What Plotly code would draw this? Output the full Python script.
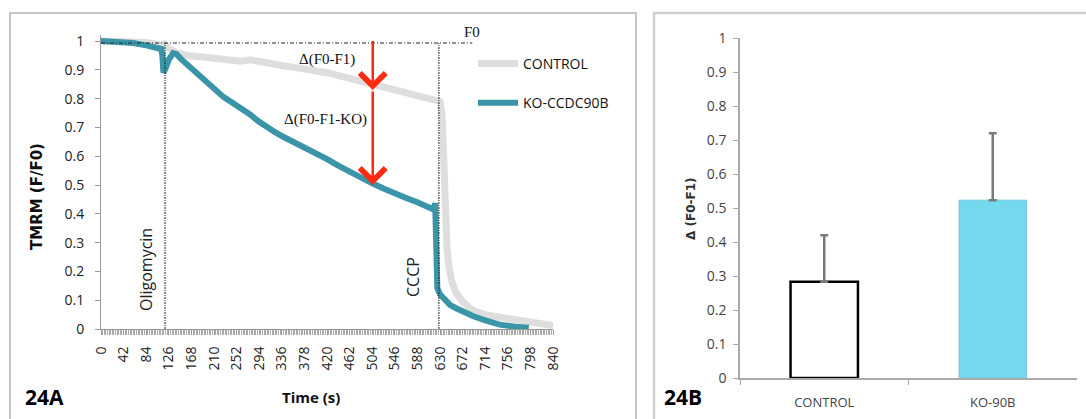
import plotly.graph_objects as go

W, H = 1086, 419

# ---------------- Panel 24A data ----------------
ctrl_t = [0, 21, 42, 63, 84, 100, 112, 118, 126, 140, 160, 184, 210, 240, 260, 277, 300,
          336, 370, 420, 462, 504, 546, 588, 615, 630, 634, 637, 640, 643, 647, 652, 660,
          672, 690, 714, 750, 790, 840]
ctrl_v = [1.0, 1.0, 0.998, 0.997, 0.995, 0.99, 0.985, 0.99, 0.975, 0.96, 0.95, 0.945, 0.94,
          0.935, 0.93, 0.935, 0.925, 0.915, 0.905, 0.89, 0.87, 0.85, 0.835, 0.815, 0.8, 0.79,
          0.74, 0.55, 0.38, 0.28, 0.21, 0.165, 0.125, 0.095, 0.065, 0.05, 0.038, 0.025, 0.012]

ko_t = [0, 21, 42, 60, 84, 100, 112, 114, 116, 120, 126, 134, 140, 150, 168, 184, 197, 210,
        228, 245, 262, 277, 292, 308, 322, 336, 352, 370, 395, 420, 440, 462, 484, 505, 526,
        546, 567, 588, 611, 618, 621, 623, 625, 630, 640, 649, 660, 672, 691, 714, 741, 770, 795]
ko_v = [1.0, 0.998, 0.995, 0.993, 0.985, 0.978, 0.972, 0.95, 0.89, 0.905, 0.935, 0.958,
        0.955, 0.935, 0.905, 0.872, 0.85, 0.83, 0.805, 0.785, 0.765, 0.745, 0.722, 0.70, 0.685,
        0.67, 0.655, 0.64, 0.615, 0.59, 0.568, 0.545, 0.525, 0.505, 0.487, 0.47, 0.455, 0.44,
        0.424, 0.415, 0.437, 0.30, 0.142, 0.12, 0.10, 0.083, 0.072, 0.06, 0.045, 0.03, 0.015,
        0.008, 0.004]

x_tick_vals = [0, 42, 84, 126, 168, 210, 252, 294, 336, 378, 420, 462, 504, 546, 588, 630,
               672, 714, 756, 798, 840]
x_tick_text = [str(v) for v in x_tick_vals]
y_tick_vals = [0, 0.1, 0.2, 0.3, 0.4, 0.5, 0.6, 0.7, 0.8, 0.9, 1]
y_tick_text = ["0", "0.1", "0.2", "0.3", "0.4", "0.5", "0.6", "0.7", "0.8", "0.9", "1"]

# event markers
OLIGO_T = 119
CCCP_T = 628
F0_LEVEL = 0.993
F0_END_T = 690
ARROW_T = 505
ARROW_TOP = 1.005
ARROW_MID = 0.83
ARROW_END = 0.50

# ---------------- Panel 24B data ----------------
groups = ["CONTROL", "KO-90B"]
delta_mean = [0.283, 0.523]
delta_err = [0.137, 0.197]

GREY = "#dedede"
TEAL = "#3a95a9"


def fx(px):
    return px / W


def fy(py):
    return 1 - py / H


fig = go.Figure()

fig.add_trace(go.Scatter(x=ctrl_t, y=ctrl_v, mode="lines", name="CONTROL",
                         line=dict(color=GREY, width=7), legendgroup="a",
                         xaxis="x", yaxis="y"))
fig.add_trace(go.Scatter(x=ko_t, y=ko_v, mode="lines", name="KO-CCDC90B",
                         line=dict(color=TEAL, width=6), legendgroup="b",
                         xaxis="x", yaxis="y"))

fig.add_trace(go.Bar(x=groups, y=delta_mean, xaxis="x2", yaxis="y2", showlegend=False,
                     marker=dict(color=["white", "#74d8ef"],
                                 line=dict(color=["black", "#74c6da"], width=[2.5, 1])),
                     error_y=dict(type="data", array=delta_err, arrayminus=[0, 0],
                                  symmetric=False, color="#7a7a7a", thickness=2.5, width=4)))

tickfont = dict(family="Open Sans", size=14, color="#222")

fig.update_layout(
    width=W, height=H, margin=dict(l=0, r=0, t=0, b=0, autoexpand=False),
    paper_bgcolor="white", plot_bgcolor="rgba(0,0,0,0)",
    bargap=0.6,
    showlegend=True,
    legend=dict(x=fx(473), y=fy(48), xanchor="left", yanchor="top",
                font=dict(family="Open Sans", size=14, color="#111"),
                itemwidth=40, tracegroupgap=18, traceorder="grouped",
                bgcolor="rgba(0,0,0,0)"),
    xaxis=dict(domain=[fx(101), fx(553)], range=[0, 840], anchor="y", automargin=False,
               tickmode="array", tickvals=x_tick_vals, ticktext=x_tick_text,
               tickangle=-90, tickfont=tickfont, ticks="outside", ticklen=5,
               tickcolor="#999", ticklabelstandoff=6,
               showline=True, linecolor="#999", linewidth=1, showgrid=False,
               zeroline=False,
               minor=dict(tickmode="linear", tick0=0, dtick=3, ticks="outside",
                          ticklen=5, tickcolor="#aaa", tickwidth=1, showgrid=False)),
    yaxis=dict(domain=[fy(329), fy(329 - 1.02 * 288)], range=[0, 1.02], anchor="x",
               automargin=False,
               tickmode="array", tickvals=y_tick_vals, ticktext=y_tick_text,
               tickfont=tickfont, ticks="outside", ticklen=5, tickcolor="#999",
               ticklabelstandoff=8,
               showline=True, linecolor="#999", linewidth=1, showgrid=False,
               zeroline=False),
    xaxis2=dict(domain=[fx(740), fx(1077)], range=[-0.5, 1.5], anchor="y2",
                automargin=False,
                type="category", tickfont=dict(family="Open Sans", size=13, color="#444"),
                ticks="outside", tickson="boundaries", ticklen=5, tickcolor="#aaa",
                ticklabelstandoff=12,
                showline=True, linecolor="#aaa", linewidth=1.5, showgrid=False),
    yaxis2=dict(domain=[fy(378), fy(38)], range=[0, 1], anchor="x2", automargin=False,
                tickmode="array", tickvals=y_tick_vals, ticktext=y_tick_text,
                tickfont=dict(family="Open Sans", size=14, color="#444"),
                ticks="outside", ticklen=5, tickcolor="#aaa", ticklabelstandoff=4,
                showline=True, linecolor="#aaa", linewidth=1.5, showgrid=False,
                zeroline=False),
)

shapes = [
    # panel borders
    dict(type="rect", xref="paper", yref="paper", x0=fx(10), x1=fx(636), y0=fy(440), y1=fy(13),
         line=dict(color="#b5b5b5", width=1.5), layer="below"),
    dict(type="rect", xref="paper", yref="paper", x0=fx(654), x1=fx(1100), y0=fy(440), y1=fy(13),
         line=dict(color="#cfcfcf", width=2.5), layer="below"),
    # F0 reference line
    dict(type="line", xref="x", yref="y", x0=0, x1=F0_END_T, y0=F0_LEVEL, y1=F0_LEVEL,
         line=dict(color="#222", width=1, dash="4px,2px,1px,2px")),
    # oligomycin / CCCP
    dict(type="line", xref="x", yref="y", x0=OLIGO_T, x1=OLIGO_T, y0=0, y1=F0_LEVEL,
         line=dict(color="#222", width=1, dash="2px,1px,1px,1px")),
    dict(type="line", xref="x", yref="y", x0=CCCP_T, x1=CCCP_T, y0=0, y1=F0_LEVEL,
         line=dict(color="#222", width=1, dash="2px,1px,1px,1px")),
]
fig.update_layout(shapes=shapes)

serif = dict(family="Liberation Serif", size=15, color="#111")
sans = dict(family="Open Sans", size=16, color="#222")
ann = [
    dict(text="Δ(F0-F1)", x=fx(327), y=fy(60), font=serif),
    dict(text="Δ(F0-F1-KO)", x=fx(325), y=fy(119), font=serif),
    dict(text="F0", x=fx(472), y=fy(32), font=serif),
    dict(text="Oligomycin", x=fx(146), y=fy(270), font=sans, textangle=-90),
    dict(text="CCCP", x=fx(413), y=fy(277), font=sans, textangle=-90),
    dict(text="<b>TMRM (F/F0)</b>", x=fx(37), y=fy(197),
         font=dict(family="DejaVu Sans", size=15, color="#111"), textangle=-90),
    dict(text="<b>Time (s)</b>", x=fx(311), y=fy(397),
         font=dict(family="Open Sans", size=15, color="#111")),
    dict(text="<b>24A</b>", x=fx(44), y=fy(397),
         font=dict(family="Open Sans", size=21, color="#000")),
    dict(text="<b>24B</b>", x=fx(683), y=fy(397),
         font=dict(family="Open Sans", size=21, color="#000")),
    dict(text="<b>Δ (F0-F1)</b>", x=fx(691), y=fy(209),
         font=dict(family="DejaVu Sans", size=12, color="#333"), textangle=-90),
]
annotations = []
for a in ann:
    d = dict(xref="paper", yref="paper", showarrow=False, xanchor="center", yanchor="middle")
    d.update(a)
    annotations.append(d)

# red arrow with two chevron heads
for tail, tip in [(ARROW_TOP, ARROW_MID), (ARROW_MID, ARROW_END)]:
    annotations.append(dict(xref="x", yref="y", axref="x", ayref="y", x=ARROW_T, y=tip,
                            ax=ARROW_T, ay=tail, text="", showarrow=True, arrowhead=4,
                            arrowsize=2, arrowwidth=2.5, arrowcolor="#ff2a10", standoff=0,
                            startstandoff=0))
fig.update_layout(annotations=annotations)

fig.write_html("out.html", config={"displayModeBar": False},
               post_script="document.body.style.margin='0';document.body.style.overflow='hidden';")
